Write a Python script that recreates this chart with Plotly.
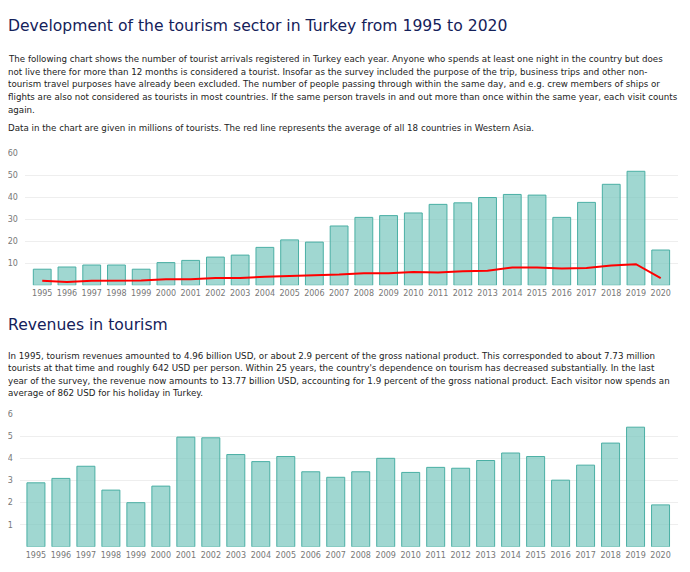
import plotly.graph_objects as go

years = ["1995", "1996", "1997", "1998", "1999", "2000", "2001", "2002", "2003",
         "2004", "2005", "2006", "2007", "2008", "2009", "2010", "2011", "2012",
         "2013", "2014", "2015", "2016", "2017", "2018", "2019", "2020"]

# tourist arrivals in Turkey, millions
arrivals = [7.3, 8.3, 9.2, 9.2, 7.3, 10.3, 11.3, 12.8, 13.7, 17.2, 20.6, 19.6, 26.9,
            30.8, 31.6, 32.8, 36.7, 37.4, 39.8, 41.2, 40.9, 30.8, 37.6, 45.8, 51.7, 16.0]

# average of the 18 countries in Western Asia, millions
west_asia_avg = [2.1, 1.5, 2.1, 2.1, 2.2, 2.7, 2.7, 3.3, 3.3, 3.9, 4.2, 4.3, 4.9,
                 5.5, 5.5, 6.0, 5.8, 6.4, 6.6, 8.1, 8.1, 7.6, 7.9, 9.0, 9.6, 3.3]

# tourism revenues, percent of GNP
revenue_pct = [2.9, 3.1, 3.65, 2.57, 2.0, 2.75, 4.97, 4.94, 4.18, 3.86, 4.09, 3.4, 3.15,
               3.4, 4.01, 3.37, 3.6, 3.56, 3.91, 4.25, 4.09, 3.02, 3.7, 4.7, 5.42, 1.9]

y1_ticks = [10, 20, 30, 40, 50, 60]
y2_ticks = [1, 2, 3, 4, 5, 6]

title1 = "Development of the tourism sector in Turkey from 1995 to 2020"
para1 = [
    "The following chart shows the number of tourist arrivals registered in Turkey each year. Anyone who spends at least one night in the country but does",
    "not live there for more than 12 months is considered a tourist. Insofar as the survey included the purpose of the trip, business trips and other non-",
    "tourism travel purposes have already been excluded. The number of people passing through within the same day, and e.g. crew members of ships or",
    "flights are also not considered as tourists in most countries. If the same person travels in and out more than once within the same year, each visit counts",
    "again.",
]
para1b = "Data in the chart are given in millions of tourists. The red line represents the average of all 18 countries in Western Asia."
title2 = "Revenues in tourism"
para2 = [
    "In 1995, tourism revenues amounted to 4.96 billion USD, or about 2.9 percent of the gross national product. This corresponded to about 7.73 million",
    "tourists at that time and roughly 642 USD per person. Within 25 years, the country's dependence on tourism has decreased substantially. In the last",
    "year of the survey, the revenue now amounts to 13.77 billion USD, accounting for 1.9 percent of the gross national product. Each visitor now spends an",
    "average of 862 USD for his holiday in Turkey.",
]

# page is 690x572; the html body adds an 8px margin around the figure
OFF = 8
W, H = 690 - 2 * OFF, 572 - 2 * OFF
BAR_FILL = "rgba(120,198,190,0.70)"
BAR_LINE = "#4aafa4"
FONT = "DejaVu Sans"


def px(x):
    return (x - OFF) / W


def py(y):
    return 1 - (y - OFF) / H


fig = go.Figure()
fig.add_trace(go.Bar(x=years, y=arrivals, xaxis="x", yaxis="y",
                     marker=dict(color=BAR_FILL, line=dict(color=BAR_LINE, width=1)),
                     showlegend=False))
fig.add_trace(go.Scatter(x=years, y=west_asia_avg, xaxis="x", yaxis="y", mode="lines",
                         line=dict(color="#ff0000", width=2), showlegend=False))
fig.add_trace(go.Bar(x=years, y=revenue_pct, xaxis="x2", yaxis="y2",
                     marker=dict(color=BAR_FILL, line=dict(color=BAR_LINE, width=1)),
                     showlegend=False))

axis_font = dict(family=FONT, size=8, color="#777777")
common_x = dict(type="category", showgrid=False, zeroline=False, showline=False,
                ticks="", tickfont=axis_font, ticklabelstandoff=2, fixedrange=True)
common_y = dict(showgrid=True, gridcolor="#eeeeee", gridwidth=1, zeroline=False,
                showline=False, ticks="", tickfont=axis_font, ticklabelstandoff=6)

fig.update_layout(
    width=W, height=H,
    margin=dict(l=0, r=0, t=0, b=0),
    paper_bgcolor="white", plot_bgcolor="white",
    bargap=0.28,
    xaxis=dict(domain=[px(20), px(678)], range=[-0.7, 25.7], anchor="y", **common_x),
    yaxis=dict(domain=[py(283.3), py(150)], range=[0, 60], tickvals=y1_ticks,
               anchor="x", **common_y),
    xaxis2=dict(domain=[px(15), px(678)], range=[-0.64, 25.7], anchor="y2", **common_x),
    yaxis2=dict(domain=[py(546.7), py(413.3)], range=[0, 6], tickvals=y2_ticks,
                anchor="x2", **common_y),
)

ann = []
TITLE_COLOR = "#14215a"
TEXT_COLOR = "#222222"
BODY = 8.7
HEAD = 15.6


def add_text(text, x, y, size, color):
    ann.append(dict(text=text, x=px(x), y=py(y), xref="paper", yref="paper",
                    xanchor="left", yanchor="middle", showarrow=False,
                    font=dict(family=FONT, size=size, color=color)))


TX = 1
add_text(title1, TX, 22, HEAD, TITLE_COLOR)
for i, line in enumerate(para1):
    add_text(line, TX, 55 + 13 * i, BODY, TEXT_COLOR)
add_text(para1b, TX, 125, BODY, TEXT_COLOR)
add_text(title2, TX, 323, HEAD, TITLE_COLOR)
for i, line in enumerate(para2):
    add_text(line, TX, 354 + 12.7 * i, BODY, TEXT_COLOR)
fig.update_layout(annotations=ann)

fig.write_html("out.html")
